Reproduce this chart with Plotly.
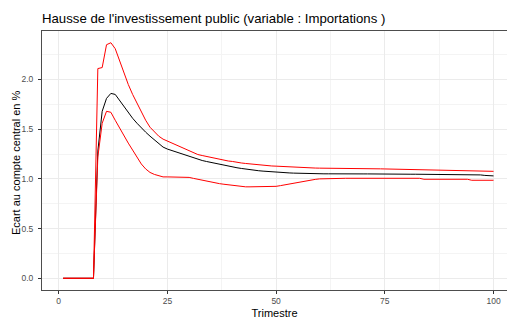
import plotly.graph_objects as go

# Quarters 1..100
trimestre = list(range(1, 101))

# Central response (black)
centrale = (
    [0.0] * 8
    + [1.28, 1.68, 1.81, 1.86, 1.85, 1.79, 1.72, 1.67, 1.61, 1.56,
       1.51, 1.47, 1.43, 1.39, 1.35, 1.32, 1.30, 1.285, 1.27, 1.255,
       1.24, 1.225, 1.21, 1.195, 1.185, 1.175, 1.165, 1.155, 1.147, 1.138,
       1.13, 1.12, 1.112, 1.105, 1.098, 1.092, 1.087, 1.082, 1.078, 1.074,
       1.07, 1.067, 1.064, 1.062, 1.06, 1.058, 1.056, 1.055, 1.054, 1.053,
       1.052, 1.052, 1.051, 1.051, 1.05, 1.05, 1.05, 1.05, 1.05, 1.05,
       1.05, 1.05, 1.05, 1.049, 1.049, 1.049, 1.049, 1.048, 1.048, 1.048,
       1.048, 1.047, 1.047, 1.047, 1.047, 1.046, 1.046, 1.046, 1.046, 1.046,
       1.045, 1.045, 1.044, 1.044, 1.043, 1.042, 1.041, 1.04, 1.04, 1.035,
       1.03, 1.03]
)

# Upper bound (red)
borne_haute = (
    [0.0] * 8
    + [2.11, 2.12, 2.35, 2.37, 2.31, 2.19, 2.06, 1.95, 1.85, 1.76,
       1.67, 1.59, 1.52, 1.47, 1.43, 1.40, 1.38, 1.36, 1.34, 1.32,
       1.30, 1.28, 1.26, 1.245, 1.235, 1.225, 1.215, 1.205, 1.20, 1.19,
       1.18, 1.175, 1.165, 1.16, 1.155, 1.15, 1.148, 1.146, 1.14, 1.135,
       1.13, 1.128, 1.125, 1.122, 1.12, 1.118, 1.115, 1.112, 1.111, 1.11,
       1.109, 1.108, 1.108, 1.107, 1.107, 1.106, 1.106, 1.105, 1.105, 1.104,
       1.104, 1.103, 1.103, 1.102, 1.102, 1.101, 1.1, 1.099, 1.098, 1.097,
       1.096, 1.095, 1.094, 1.093, 1.092, 1.091, 1.09, 1.089, 1.088, 1.087,
       1.086, 1.085, 1.084, 1.083, 1.082, 1.081, 1.08, 1.08, 1.079, 1.078,
       1.077, 1.076]
)

# Lower bound (red)
borne_basse = (
    [0.0] * 8
    + [1.22, 1.56, 1.68, 1.67, 1.59, 1.51, 1.43, 1.36, 1.29, 1.22,
       1.15, 1.10, 1.065, 1.045, 1.03, 1.02, 1.02, 1.02, 1.02, 1.02,
       1.02, 1.015, 1.005, 0.995, 0.985, 0.975, 0.965, 0.958, 0.952, 0.946,
       0.94, 0.935, 0.93, 0.925, 0.92, 0.92, 0.92, 0.92, 0.92, 0.92,
       0.92, 0.925, 0.932, 0.94, 0.95, 0.96, 0.97, 0.978, 0.985, 0.99,
       0.995, 1.0, 1.002, 1.004, 1.006, 1.006, 1.006, 1.006, 1.006, 1.006,
       1.006, 1.006, 1.006, 1.006, 1.006, 1.006, 1.006, 1.006, 1.006, 1.006,
       1.006, 1.006, 1.006, 1.006, 1.006, 0.996, 0.996, 0.996, 0.996, 0.996,
       0.996, 0.996, 0.996, 0.996, 0.996, 0.996, 0.986, 0.986, 0.986, 0.986,
       0.986, 0.986]
)

y_ticks = [0.0, 0.5, 1.0, 1.5, 2.0]
y_tick_labels = ["0.0", "0.5", "1.0", "1.5", "2.0"]
x_ticks = [0, 25, 50, 75, 100]

fig = go.Figure()
fig.add_trace(go.Scatter(x=trimestre, y=centrale, mode="lines",
                         line=dict(color="black", width=1), showlegend=False))
fig.add_trace(go.Scatter(x=trimestre, y=borne_basse, mode="lines",
                         line=dict(color="#FF0000", width=1), showlegend=False))
fig.add_trace(go.Scatter(x=trimestre, y=borne_haute, mode="lines",
                         line=dict(color="#FF0000", width=1), showlegend=False))

axis_font = dict(family="Liberation Sans, Arial, sans-serif", size=8.5, color="#4D4D4D")
title_font = dict(family="Liberation Sans, Arial, sans-serif", size=11, color="black")

fig.update_layout(
    width=507,
    height=320,
    margin=dict(l=42, r=0, t=31, b=30),
    paper_bgcolor="white",
    plot_bgcolor="white",
    title=dict(
        text="Hausse de l'investissement public (variable : Importations )",
        x=42 / 507, xanchor="left", xref="container",
        y=1 - 18 / 320, yanchor="middle", yref="container",
        font=dict(family="Liberation Sans, Arial, sans-serif", size=13.2, color="black"),
    ),
    xaxis=dict(
        range=[-3.84, 103.1],
        tickvals=x_ticks,
        ticktext=[str(v) for v in x_ticks],
        ticks="outside", ticklen=3, tickcolor="#333333", tickwidth=1,
        tickfont=axis_font,
        showgrid=True, gridcolor="#EBEBEB", gridwidth=1,
        minor=dict(dtick=12.5, tick0=0, showgrid=True, gridcolor="#F4F4F4", gridwidth=1),
        showline=True, linecolor="#4D4D4D", linewidth=1, mirror=True,
        zeroline=False,
        title=dict(text="Trimestre", font=title_font, standoff=4),
    ),
    yaxis=dict(
        range=[-0.118, 2.488],
        tickvals=y_ticks,
        ticktext=y_tick_labels,
        ticks="outside", ticklen=3, tickcolor="#333333", tickwidth=1,
        ticklabelstandoff=3,
        tickfont=axis_font,
        showgrid=True, gridcolor="#EBEBEB", gridwidth=1,
        minor=dict(dtick=0.25, tick0=0, showgrid=True, gridcolor="#F4F4F4", gridwidth=1),
        showline=True, linecolor="#4D4D4D", linewidth=1,
        zeroline=False,
    ),
    annotations=[
        dict(
            text="Ecart au compte central en %",
            textangle=-90,
            xref="paper", yref="paper",
            x=(16 - 42) / 465, y=(290 - 163) / 259,
            xanchor="center", yanchor="middle",
            showarrow=False,
            font=title_font,
        )
    ],
)

fig.write_html("out.html")
